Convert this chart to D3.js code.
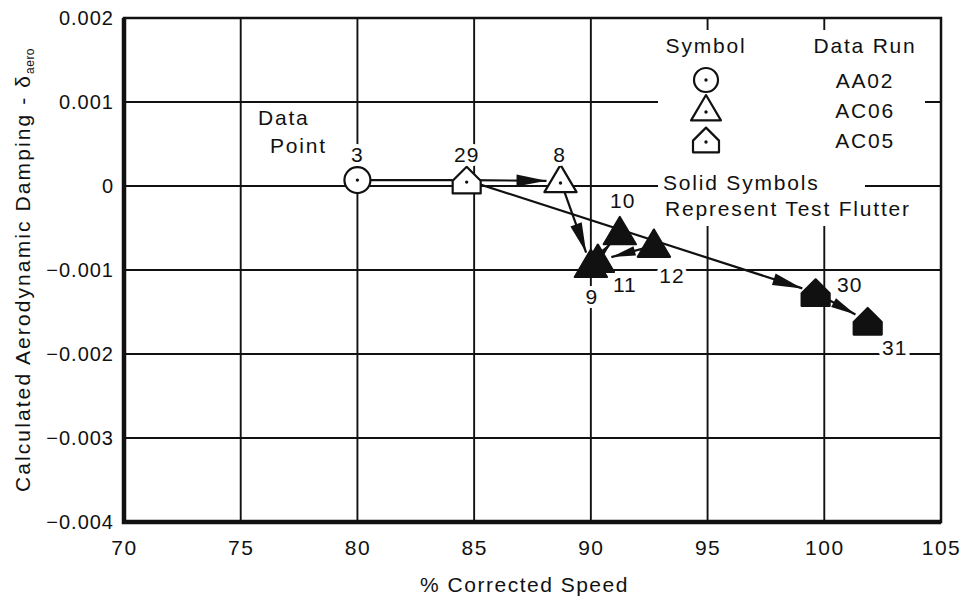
<!DOCTYPE html>
<html>
<head>
<meta charset="utf-8">
<script src="https://cdn.jsdelivr.net/npm/d3@7"></script>
<style>
  body { margin: 0; background: #fff; }
  text { font-family: "Liberation Sans", Arial, sans-serif; fill: #111; }
</style>
</head>
<body>
<div id="chart"></div>
<script>
// data
var pointIds     = ["3", "29", "8", "9", "11", "10", "12", "30", "31"];
var pointSpeed   = [80.0, 84.68, 88.7, 90.0, 90.3, 91.24, 92.7, 99.63, 101.86];
var pointDamping = [0.00007, 0.00007, 0.00006, -0.00095, -0.00089, -0.00056, -0.00071, -0.00127, -0.00161];
var pointRun     = ["AA02", "AC05", "AC06", "AC06", "AC06", "AC06", "AC06", "AC05", "AC05"];
var pointSolid   = [false, false, false, true, true, true, true, true, true];

var arrowFrom = ["3", "29", "8", "9", "12", "29", "30"];
var arrowTo   = ["29", "8", "9", "10", "11", "30", "31"];
var arrowHead = [false, true, true, true, true, true, true];

var runs        = ["AA02", "AC06", "AC05"];
var xTicks      = [70, 75, 80, 85, 90, 95, 100, 105];
var yTicks      = [0.002, 0.001, 0, -0.001, -0.002, -0.003, -0.004];
var yTickLabels = ["0.002", "0.001", "0", "\u22120.001", "\u22120.002", "\u22120.003", "\u22120.004"];

var width = 966, height = 600;
var margin = {top: 18, right: 25, bottom: 78, left: 124};

var svg = d3.select("#chart").append("svg")
    .attr("width", width)
    .attr("height", height);

var x = d3.scaleLinear().domain([70, 105]).range([margin.left, width - margin.right]);
var y = d3.scaleLinear().domain([-0.004, 0.002]).range([height - margin.bottom, margin.top]);

function font(sel, size, spacing) {
    return sel.style("font-size", size + "px").style("letter-spacing", spacing + "px");
}
// white stroke behind text so grid lines break around labels
function halo(sel) {
    return sel.attr("stroke", "#fff").attr("stroke-width", 8)
        .attr("paint-order", "stroke").attr("stroke-linejoin", "round");
}

// grid
var grid = svg.append("g");
grid.selectAll(".vg").data(xTicks.slice(1, -1)).enter().append("line")
    .attr("x1", function(d) { return x(d); }).attr("x2", function(d) { return x(d); })
    .attr("y1", y(0.002)).attr("y2", y(-0.004))
    .attr("stroke", "#111").attr("stroke-width", 1.9);
grid.selectAll(".hg").data(yTicks.slice(1, -1)).enter().append("line")
    .attr("x1", x(70)).attr("x2", x(105))
    .attr("y1", function(d) { return y(d); }).attr("y2", function(d) { return y(d); })
    .attr("stroke", "#111").attr("stroke-width", 1.9);

// white patches behind the legend and note (grid is cut there in the original)
var patches = [[658, 30, 267, 135], [658, 165, 207, 32], [658, 197, 280, 29]];
patches.forEach(function(p) {
    svg.append("rect").attr("x", p[0]).attr("y", p[1]).attr("width", p[2]).attr("height", p[3]).attr("fill", "#fff");
});

// frame: heavy left/bottom
svg.append("rect")
    .attr("x", x(70)).attr("y", y(0.002))
    .attr("width", x(105) - x(70)).attr("height", y(-0.004) - y(0.002))
    .attr("fill", "none").attr("stroke", "#111").attr("stroke-width", 2.5);
svg.append("path")
    .attr("d", "M" + x(70) + "," + y(0.002) + "V" + y(-0.004) + "H" + x(105))
    .attr("fill", "none").attr("stroke", "#111").attr("stroke-width", 4.5);

// tick labels
var xAxis = d3.axisBottom(x).tickValues(xTicks).tickSize(0).tickPadding(18);
svg.append("g")
    .attr("transform", "translate(0," + y(-0.004) + ")")
    .call(xAxis)
    .call(function(g) { g.select(".domain").remove(); })
    .selectAll("text")
    .call(font, 21, 1.5)
    .style("font-family", "Liberation Sans, Arial, sans-serif")
    .attr("fill", "#111");

var yAxis = d3.axisLeft(y).tickValues(yTicks).tickSize(0).tickPadding(10)
    .tickFormat(function(d, i) { return yTickLabels[i]; });
svg.append("g")
    .attr("transform", "translate(" + x(70) + ",0)")
    .call(yAxis)
    .call(function(g) { g.select(".domain").remove(); })
    .selectAll("text")
    .call(font, 20, 1)
    .style("font-family", "Liberation Sans, Arial, sans-serif")
    .attr("fill", "#111");

// axis titles
svg.append("text")
    .attr("x", (x(70) + x(105)) / 2 - 8).attr("y", 592)
    .attr("text-anchor", "middle")
    .call(font, 21, 1.5)
    .text("% Corrected Speed");

var yt = svg.append("text")
    .attr("transform", "translate(30," + ((y(0.002) + y(-0.004)) / 2) + ") rotate(-90)")
    .attr("text-anchor", "middle")
    .call(font, 21, 2.1);
yt.append("tspan").text("Calculated Aerodynamic Damping - \u03b4");
yt.append("tspan").attr("dy", 4).style("font-size", "12px").style("letter-spacing", "0.5px").text("aero");

// symbols
var symbolPath = {
    AA02: function(s) { return d3.arc()({innerRadius: 0, outerRadius: s, startAngle: 0, endAngle: 2 * Math.PI}); },
    AC06: function(s) { return "M0," + (-s * 1.15) + "L" + (s * 1.15) + "," + (s * 0.8) + "L" + (-s * 1.15) + "," + (s * 0.8) + "Z"; },
    AC05: function(s) { return "M" + (-s) + "," + (s * 0.95) + "L" + s + "," + (s * 0.95) + "L" + s + "," + (s * 0.05) +
                              "L0," + (-s * 0.95) + "L" + (-s) + "," + (s * 0.05) + "Z"; }
};

function drawSymbol(g, run, cx, cy, s, solid) {
    var grp = g.append("g").attr("transform", "translate(" + cx + "," + cy + ")");
    grp.append("path")
        .attr("d", symbolPath[run](s))
        .attr("fill", solid ? "#111" : "#fff")
        .attr("stroke", "#111").attr("stroke-width", 2.2)
        .attr("stroke-linejoin", "round");
    if (!solid) {
        grp.append("circle").attr("r", 1.7).attr("cy", run === "AA02" ? 0 : 2).attr("fill", "#111");
    }
}

// legend
var lg = svg.append("g");
lg.append("text").attr("x", 706).attr("y", 53).attr("text-anchor", "middle")
    .call(font, 21, 1.8).text("Symbol");
lg.append("text").attr("x", 865).attr("y", 53).attr("text-anchor", "middle")
    .call(font, 21, 1.8).text("Data Run");
runs.forEach(function(r, i) {
    var ry = 80 + i * 30;
    drawSymbol(lg, r, 706, ry, r === "AA02" ? 12 : 13, false);
    lg.append("text").attr("x", 865).attr("y", ry + 8).attr("text-anchor", "middle")
        .call(font, 21, 1.8).text(r);
});

svg.append("text").attr("x", 663).attr("y", 190).call(font, 21, 1.8).text("Solid Symbols");
svg.append("text").attr("x", 665).attr("y", 216).call(font, 21, 1.8).text("Represent Test Flutter");

halo(svg.append("text").attr("x", 258).attr("y", 125).call(font, 21, 1.8).text("Data"));
halo(svg.append("text").attr("x", 270).attr("y", 153).call(font, 21, 1.8).text("Point"));

// arrows
function pos(id) {
    var i = pointIds.indexOf(id);
    return [x(pointSpeed[i]), y(pointDamping[i])];
}

var arrows = svg.append("g");
arrowFrom.forEach(function(f, i) {
    var a = pos(f), b = pos(arrowTo[i]);
    var dx = b[0] - a[0], dy = b[1] - a[1];
    var len = Math.sqrt(dx * dx + dy * dy);
    var ux = dx / len, uy = dy / len;
    var cut = Math.min(14, len * 0.3);
    var tip = [b[0] - ux * cut, b[1] - uy * cut];
    arrows.append("line")
        .attr("x1", a[0]).attr("y1", a[1])
        .attr("x2", tip[0]).attr("y2", tip[1])
        .attr("stroke", "#111").attr("stroke-width", 2.2);
    if (arrowHead[i]) {
        var L = Math.min(30, (len - cut) * 0.55), w = L * 0.2;
        var bx = tip[0] - ux * L, by = tip[1] - uy * L;
        arrows.append("path")
            .attr("d", "M" + tip[0] + "," + tip[1] +
                       "L" + (bx - uy * w) + "," + (by + ux * w) +
                       "L" + (bx + uy * w) + "," + (by - ux * w) + "Z")
            .attr("fill", "#111");
    }
});

// points
var pts = svg.append("g");
pointIds.forEach(function(id, i) {
    drawSymbol(pts, pointRun[i], x(pointSpeed[i]), y(pointDamping[i]), pointRun[i] === "AA02" ? 13 : 14, pointSolid[i]);
});

// point labels
var labelOffset = {
    "3": [0, -18], "29": [0, -18], "8": [-1, -19], "9": [1, 38], "11": [27, 31],
    "10": [3, -25], "12": [18, 37], "30": [34, -1], "31": [27, 34]
};
pointIds.forEach(function(id, i) {
    var o = labelOffset[id];
    halo(svg.append("text")
        .attr("x", x(pointSpeed[i]) + o[0]).attr("y", y(pointDamping[i]) + o[1])
        .attr("text-anchor", "middle")
        .call(font, 21, 1)
        .text(id));
});
</script>
</body>
</html>
